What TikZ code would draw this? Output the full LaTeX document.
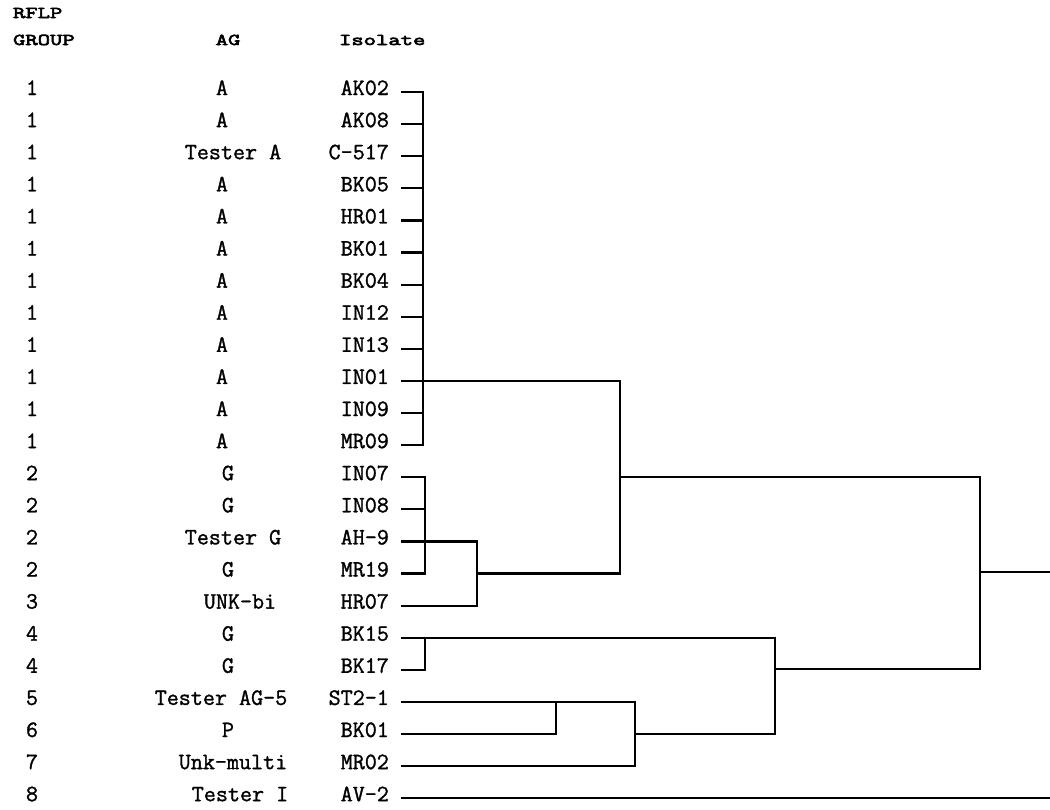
\documentclass[tikz,border=0pt]{standalone}
\usepackage{fontspec}
\newfontfamily\datamono{Latin Modern Mono}[FakeBold=1.3]
\newfontfamily\hdrmono{Latin Modern Mono}[FakeBold=4,FakeStretch=1.45]
\usetikzlibrary{calc}
\newcommand\datafont{\datamono\fontsize{23.4}{26}\selectfont}
\newcommand\hdrfont{\hdrmono\fontsize{16.5}{19}\selectfont}

\begin{document}
\begin{tikzpicture}[x=1pt,y=-1pt,line width=2.2pt,line cap=rect,
    lbl/.style={font=\datafont,inner sep=0pt,text height=0.6em,text depth=0pt},
    hdr/.style={font=\hdrfont,inner sep=0pt,text height=0.6em,text depth=0pt}]
  \useasboundingbox (0,0) rectangle (1050,809);
  % column heads
  \node[hdr,anchor=west] (rflp) at (12,15) {RFLP};
  \node[hdr,anchor=west] (group) at (12,42) {GROUP};
  \node[hdr] (aghead) at (228,42) {AG};
  \node[hdr,anchor=west] (isohead) at (338,42) {Isolate};
  % rows
  \foreach \g/\a/\ax/\s [count=\i from 0] in {
      1/A/222/AK02, 1/A/222/AK08, 1/Tester A/233/C-517, 1/A/222/BK05,
      1/A/222/HR01, 1/A/222/BK01, 1/A/222/BK04, 1/A/222/IN12,
      1/A/222/IN13, 1/A/222/IN01, 1/A/222/IN09, 1/A/222/MR09,
      2/G/228/IN07, 2/G/228/IN08, 2/Tester G/233/AH-9, 2/G/228/MR19,
      3/UNK-bi/240/HR07, 4/G/228/BK15, 4/G/228/BK17, 5/Tester AG-5/221/ST2-1,
      6/P/228/BK01, 7/Unk-multi/233/MR02, 8/Tester I/240/AV-2} {
    \pgfmathsetmacro\yy{92+32.1*\i}
    \node[lbl] (grp\i) at (32,\yy) {\g};
    \node[lbl] (ag\i) at (\ax,\yy) {\a};
    \node[lbl,anchor=east] (iso\i) at (390,\yy) {\s};
    \coordinate (leaf\i) at (402,\yy);
  }
  % joint columns
  \coordinate (j1) at (423,0);
  \coordinate (j2) at (425,0);
  \coordinate (j3) at (477,0);
  \coordinate (j4) at (620,0);
  \coordinate (j5) at (556,0);
  \coordinate (j6) at (635,0);
  \coordinate (j7) at (775,0);
  \coordinate (j8) at (980,0);
  \coordinate (rootend) at (1050,0);
  % group 1
  \foreach \i in {0,...,8,10,11}
    \draw (leaf\i) -- (leaf\i -| j1);
  \draw (leaf0 -| j1) -- (leaf11 -| j1);
  \draw (leaf9) -- (leaf9 -| j4);
  % group 2 and HR07
  \foreach \i in {12,13,15}
    \draw (leaf\i) -- (leaf\i -| j2);
  \draw (leaf12 -| j2) -- (leaf15 -| j2);
  \draw (leaf14) -- (leaf14 -| j3) -- (leaf16 -| j3) -- (leaf16);
  \draw (leaf15 -| j3) -- (leaf15 -| j4) -- (leaf9 -| j4);
  \draw (leaf12 -| j4) -- (leaf12 -| j8);
  % groups 4 to 7
  \draw (leaf17) -- (leaf17 -| j7) -- (leaf20 -| j7);
  \draw (leaf17 -| j2) -- (leaf18 -| j2) -- (leaf18);
  \draw (leaf19) -- (leaf19 -| j6) -- (leaf21 -| j6) -- (leaf21);
  \draw (leaf19 -| j5) -- (leaf20 -| j5) -- (leaf20);
  \draw (leaf20 -| j6) -- (leaf20 -| j7);
  \coordinate (k7) at (775,669);
  \draw (k7) -- (k7 -| j8) -- (leaf12 -| j8);
  \coordinate (k8) at (980,572);
  \draw (k8) -- (k8 -| rootend);
  % group 8
  \draw (leaf22) -- (leaf22 -| rootend);
\end{tikzpicture}
\end{document}
